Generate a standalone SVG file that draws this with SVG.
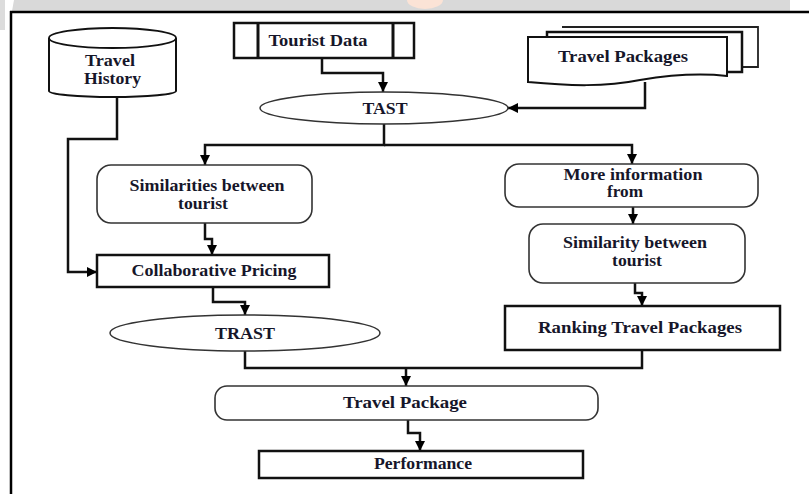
<svg xmlns="http://www.w3.org/2000/svg" width="809" height="494" viewBox="0 0 809 494">
<defs>
<marker id="ah" viewBox="0 0 10 10" markerUnits="userSpaceOnUse" markerWidth="10" markerHeight="15" refX="10" refY="5" orient="auto">
<path d="M0,0 L10,5 L0,10 z" fill="#000"/>
</marker>
</defs>
<style>
.t{font-family:"Liberation Serif","Times New Roman",serif;font-weight:bold;font-size:16px;fill:#16162a;text-anchor:middle}
.tl{text-anchor:start}
.box{fill:#fff;stroke:#111;stroke-width:2.5}
.rbox{fill:#fff;stroke:#333;stroke-width:1.6}
.ell{fill:#fff;stroke:#333;stroke-width:1.5}
.c{fill:none;stroke:#111;stroke-width:2.5}
</style>
<rect x="0" y="0" width="809" height="494" fill="#fff"/>
<g id="background">
<rect x="0" y="0" width="790" height="11" fill="#d9d9d9"/>
<path d="M5,0 L14,0 L12,11 L5,11 z" fill="#fff"/>
<ellipse cx="425" cy="0" rx="18" ry="9" fill="#fbe3d6"/>
<path d="M0,0 L5,0 L5,30 L0,30 z" fill="#dcdcdc"/>
<line x1="10" y1="12" x2="809" y2="12" stroke="#000" stroke-width="2.5"/>
<line x1="11" y1="11" x2="11" y2="494" stroke="#000" stroke-width="2.5"/>
</g>
<g id="connectors">
<path class="c" d="M117,95 L117,139 L68,139 L68,272 L97,272" marker-end="url(#ah)"/>
<path class="c" d="M322,58 L322,73 L383,73 L383,92" marker-end="url(#ah)"/>
<path class="c" d="M645,82 L645,108 L508,108" marker-end="url(#ah)"/>
<path class="c" d="M384,124 L384,145 L205,145 L205,165" marker-end="url(#ah)"/>
<path class="c" d="M384,145 L632,145 L632,164" marker-end="url(#ah)"/>
<path class="c" d="M205,223 L205,239 L212,239 L212,255" marker-end="url(#ah)"/>
<path class="c" d="M213,287 L213,302 L245,302 L245,315" marker-end="url(#ah)"/>
<path class="c" d="M633,207 L633,224" marker-end="url(#ah)"/>
<path class="c" d="M635,283 L635,293 L642,293 L642,306" marker-end="url(#ah)"/>
<path class="c" d="M245,351 L245,368 L642,368 L642,350"/>
<path class="c" d="M406,368 L406,386" marker-end="url(#ah)"/>
<path class="c" d="M408,420 L408,433 L420,433 L420,451" marker-end="url(#ah)"/>
</g>
<g id="travel-history">
<path d="M49,38 L49,91 A63.5,6 0 0 0 176,91 L176,38" fill="#fff" stroke="#111" stroke-width="2"/>
<ellipse cx="112.5" cy="38" rx="63.5" ry="10" fill="#fff" stroke="#111" stroke-width="1.8"/>
<text class="t tl" x="85" y="66" textLength="50" lengthAdjust="spacingAndGlyphs">Travel</text>
<text class="t tl" x="84" y="84" textLength="57" lengthAdjust="spacingAndGlyphs">History</text>
</g>
<g id="tourist-data">
<rect class="box" x="234" y="23" width="180" height="35" stroke-width="3"/>
<line x1="258" y1="23" x2="258" y2="58" stroke="#111" stroke-width="3"/>
<line x1="393" y1="23" x2="393" y2="58" stroke="#111" stroke-width="3"/>
<text class="t" x="318" y="46" textLength="99" lengthAdjust="spacingAndGlyphs">Tourist Data</text>
</g>
<g id="travel-packages">
<path d="M562,27 L758,27 L758,67 L742,67" fill="#fff" stroke="#222" stroke-width="1.8"/>
<path d="M547,37 L547,32 L742,32 L742,72 L727,72" fill="#fff" stroke="#111" stroke-width="2.5"/>
<path d="M528,37 L727,37 L727,76 C700,73 670,75 640,80 C605,87 570,86 528,82 Z" fill="#fff" stroke="#111" stroke-width="2"/>
<text class="t" x="623" y="62" textLength="130" lengthAdjust="spacingAndGlyphs">Travel Packages</text>
</g>
<g id="tast">
<ellipse class="ell" cx="384" cy="108" rx="124" ry="16"/>
<text class="t" x="385" y="114" textLength="45" lengthAdjust="spacingAndGlyphs">TAST</text>
</g>
<g id="similarities">
<rect class="rbox" x="97" y="165" width="215" height="58" rx="14"/>
<text class="t" x="207" y="191" textLength="155" lengthAdjust="spacingAndGlyphs">Similarities between</text>
<text class="t" x="203" y="209" textLength="50" lengthAdjust="spacingAndGlyphs">tourist</text>
</g>
<g id="collaborative-pricing">
<rect class="box" x="97" y="255" width="232" height="32"/>
<text class="t" x="214" y="276" textLength="165" lengthAdjust="spacingAndGlyphs">Collaborative Pricing</text>
</g>
<g id="trast">
<ellipse class="ell" cx="245" cy="333" rx="135" ry="18"/>
<text class="t" x="245" y="339" textLength="60" lengthAdjust="spacingAndGlyphs">TRAST</text>
</g>
<g id="more-information">
<rect class="rbox" x="505" y="164" width="253" height="43" rx="14"/>
<text class="t" x="633" y="180" textLength="139" lengthAdjust="spacingAndGlyphs">More information</text>
<text class="t" x="625" y="197" textLength="36" lengthAdjust="spacingAndGlyphs">from</text>
</g>
<g id="similarity">
<rect class="rbox" x="529" y="224" width="216" height="59" rx="14"/>
<text class="t" x="635" y="248" textLength="144" lengthAdjust="spacingAndGlyphs">Similarity between</text>
<text class="t" x="637" y="266" textLength="50" lengthAdjust="spacingAndGlyphs">tourist</text>
</g>
<g id="ranking">
<rect class="box" x="505" y="306" width="275" height="44" stroke-width="3"/>
<text class="t" x="640" y="333" textLength="204" lengthAdjust="spacingAndGlyphs">Ranking Travel Packages</text>
</g>
<g id="travel-package">
<rect class="rbox" x="215" y="386" width="383" height="34" rx="12"/>
<text class="t" x="405" y="408" textLength="124" lengthAdjust="spacingAndGlyphs">Travel Package</text>
</g>
<g id="performance">
<rect class="box" x="259" y="451" width="324" height="27"/>
<text class="t" x="423" y="469" textLength="98" lengthAdjust="spacingAndGlyphs">Performance</text>
</g>
</svg>
